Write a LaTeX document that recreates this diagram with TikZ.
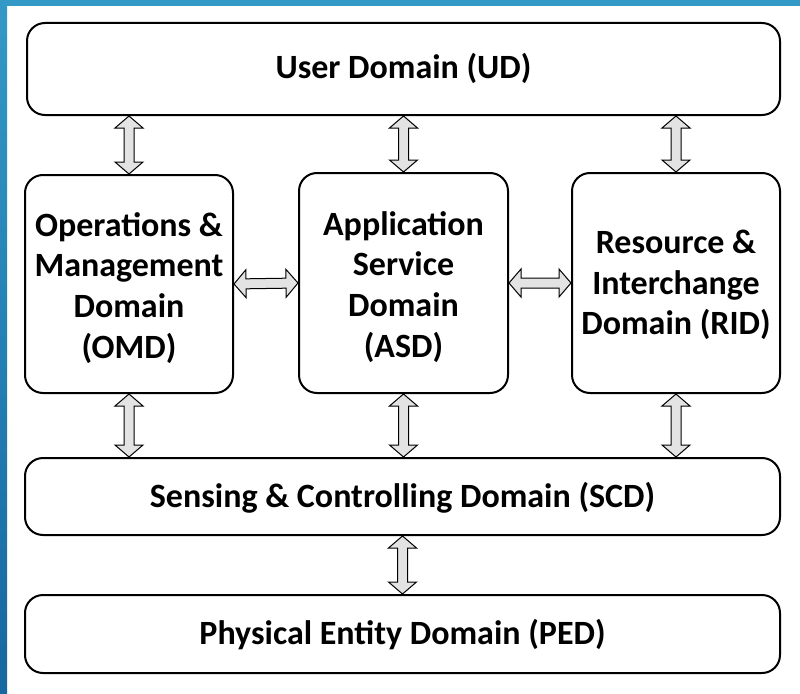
\documentclass[tikz,border=0pt]{standalone}
\usepackage{fontspec}
\setmainfont{Carlito}
\usetikzlibrary{calc}
\definecolor{frameTop}{HTML}{3399C6}
\definecolor{frameBot}{HTML}{1767A0}
\tikzset{
  dombox/.style={draw=black, line width=2pt, rounded corners=18pt, fill=white,
    font=\bfseries\fontsize{34}{40.7}\selectfont, inner sep=0pt},
  blk/.style={draw=black, line width=1pt, fill=gray!22, line join=miter},
}
% centred lines, set a little lower than the box centre
\newcommand\dropped[2]{\raisebox{-#1}[\height][\depth]{%
  \begin{tabular}{@{}c@{}}#2\end{tabular}}}
% hollow two-headed block arrow between two points
\newcommand\duplex[2]{%
  \path (#1) coordinate (pA) (#2) coordinate (pB);
  \path ($(pA)!12pt!(pB)$) coordinate (hA) ($(pB)!12pt!(pA)$) coordinate (hB);
  \draw[blk] (pA) -- ($(hA)!14pt!90:(pB)$) -- ($(hA)!5pt!90:(pB)$)
    -- ($(hB)!5pt!-90:(pA)$) -- ($(hB)!14pt!-90:(pA)$) -- (pB)
    -- ($(hB)!14pt!90:(pA)$) -- ($(hB)!5pt!90:(pA)$)
    -- ($(hA)!5pt!-90:(pB)$) -- ($(hA)!14pt!-90:(pB)$) -- cycle;
}
\begin{document}
\begin{tikzpicture}[x=1pt, y=-1pt]
  \useasboundingbox (0,0) rectangle (800,693);
  \fill[white] (0,0) rectangle (800,693);
  % slide frame along the top and left edges
  \shade[top color=frameTop, bottom color=frameBot] (0,0) rectangle (7,693);
  \fill[frameTop] (0,0) rectangle (800,6);

  \node[dombox, minimum width=753pt, minimum height=92pt] (ud) at (403.5,69)
    {\dropped{1pt}{User Domain (UD)}};
  \node[dombox, minimum width=208pt, minimum height=218pt] (omd) at (129,284)
    {\dropped{5pt}{Operations \&\\Management\\Domain\\(OMD)}};
  \node[dombox, minimum width=209pt, minimum height=220pt] (asd) at (403.5,283)
    {\dropped{5pt}{Application\\Service\\Domain\\(ASD)}};
  \node[dombox, minimum width=208pt, minimum height=220pt] (rid) at (676,283)
    {\dropped{3pt}{Resource \&\\Interchange\\Domain (RID)}};
  \node[dombox, minimum width=755pt, minimum height=77pt] (scd) at (402.5,496.5)
    {\dropped{3pt}{Sensing \& Controlling Domain (SCD)}};
  \node[dombox, minimum width=755pt, minimum height=78pt] (ped) at (402.5,634)
    {\dropped{2pt}{Physical Entity Domain (PED)}};

  \duplex{omd.north |- ud.south}{omd.north}
  \duplex{asd.north |- ud.south}{asd.north}
  \duplex{rid.north |- ud.south}{rid.north}
  \duplex{omd.east}{asd.west}
  \duplex{asd.east}{rid.west}
  \duplex{omd.south}{omd.south |- scd.north}
  \duplex{asd.south}{asd.south |- scd.north}
  \duplex{rid.south}{rid.south |- scd.north}
  \duplex{scd.south}{ped.north}
\end{tikzpicture}
\end{document}
